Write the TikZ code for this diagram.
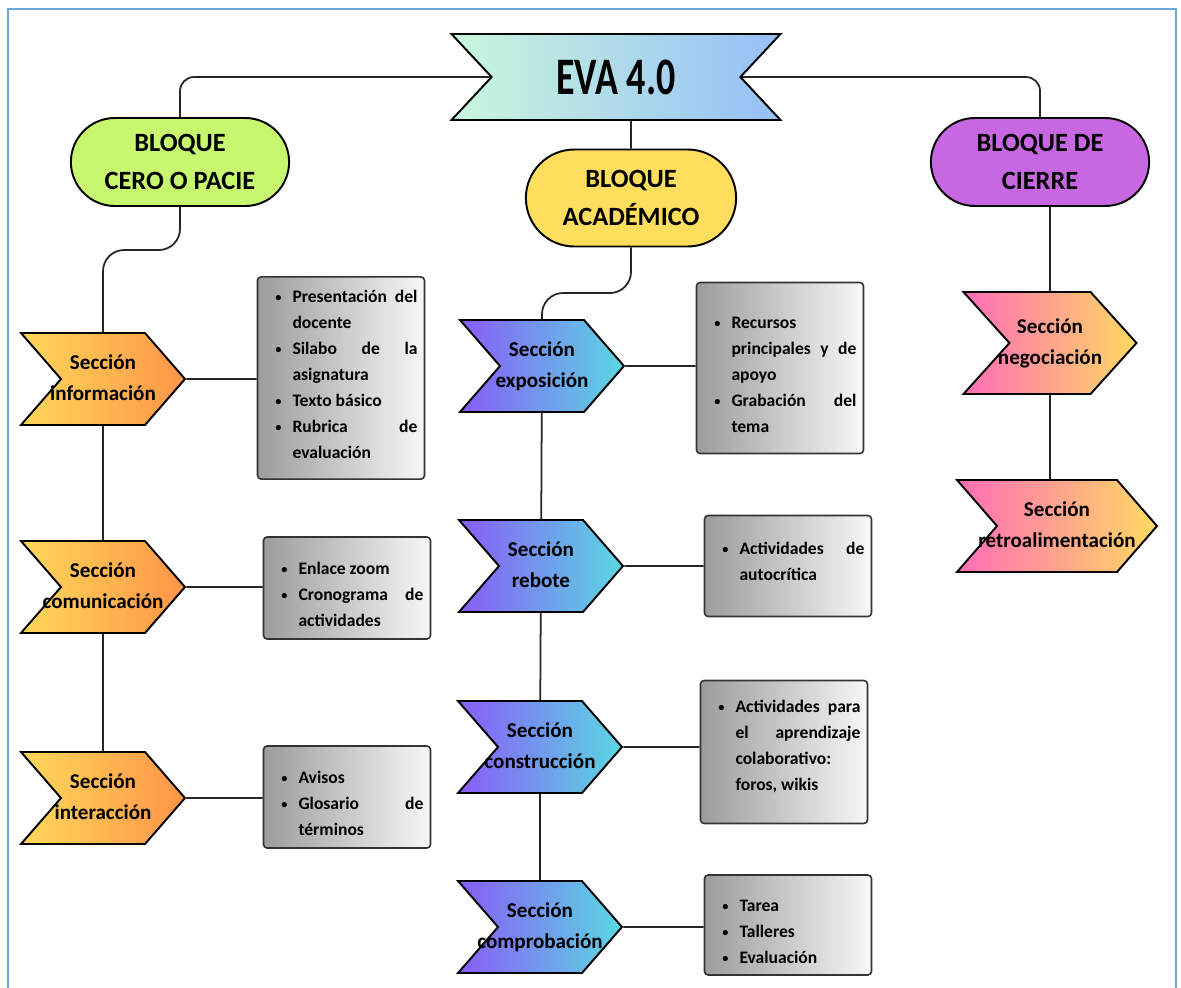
\documentclass[tikz,border=0pt]{standalone}
\usepackage{fontspec}
\setmainfont{Carlito}
\usepackage{graphicx}
\usepackage{enumitem}
\usetikzlibrary{shapes.symbols,shapes.misc,backgrounds}

\definecolor{marco}{HTML}{6FA8DC}
\definecolor{evaverde}{HTML}{C8F7DC}
\definecolor{evaazul}{HTML}{96BFF7}
\definecolor{verdelima}{HTML}{C6F76F}
\definecolor{amarillo}{HTML}{FFDE5E}
\definecolor{morado}{HTML}{C867E2}
\definecolor{naranjaclaro}{HTML}{FFD85A}
\definecolor{naranjaosc}{HTML}{FF9448}
\definecolor{violeta}{HTML}{895BF7}
\definecolor{cian}{HTML}{5AD8E2}
\definecolor{rosa}{HTML}{FF6DB8}
\definecolor{oro}{HTML}{FFDA62}
\definecolor{grisosc}{HTML}{9C9C9C}
\definecolor{grisclaro}{HTML}{F7F7F7}

\newcommand{\vinetas}[1]{\begin{itemize}[nosep,leftmargin=0.56cm,labelsep=0.22cm,
    label=\raisebox{0.12ex}{\scriptsize\textbullet}]#1\end{itemize}}
\newcommand{\centrado}[1]{\makebox[0pt]{\begin{tabular}{@{}c@{}}#1\end{tabular}}}

\begin{document}
\begin{tikzpicture}[
    x=0.02cm, y=-0.02cm,
    titulo/.style={signal, signal from=west and east, signal to=nowhere, signal pointer angle=94,
                   draw=black, line width=1.1pt, left color=evaverde, right color=evaazul,
                   minimum width=6.58cm, minimum height=1.72cm},
    bloque/.style={rounded rectangle, draw=black, line width=1.1pt, align=center,
                   font=\fontsize{15}{22}\selectfont\bfseries,
                   minimum width=4.6cm, minimum height=1.76cm},
    seccion/.style={signal, signal from=west, signal to=east, signal pointer angle=98,
                    draw=black, line width=1.1pt, inner xsep=0pt,
                    font=\fontsize{12}{17.5}\selectfont\bfseries,
                    minimum width=3.28cm, minimum height=1.84cm},
    naranja/.style={seccion, left color=naranjaclaro, right color=naranjaosc},
    azul/.style={seccion, left color=violeta, right color=cian},
    rosado/.style={seccion, left color=rosa, right color=oro},
    lista/.style={rectangle, rounded corners=2pt, draw=black!80, line width=0.9pt,
                  left color=grisosc, right color=grisclaro,
                  text width=3.06cm, inner xsep=0.14cm, align=justify,
                  font=\fontsize{10}{14.8}\selectfont\bfseries},
    link/.style={draw=black!85, line width=1pt, rounded corners=8pt}
]
    \useasboundingbox (0,0) rectangle (1181,988);

    % raiz y bloques
    \node[titulo] (eva) at (616,77) {\fontsize{30}{30}\selectfont\bfseries\scalebox{0.72}[1]{EVA 4.0}};
    \node[bloque, fill=verdelima] (cero) at (180,162) {BLOQUE\\CERO O PACIE};
    \node[bloque, fill=amarillo, minimum width=4.44cm, minimum height=1.94cm] (acad) at (631,198) {BLOQUE\\ACADÉMICO};
    \node[bloque, fill=morado] (cierre) at (1040,162) {BLOQUE DE\\CIERRE};

    % secciones
    \node[naranja] (info) at (103,379) {\centrado{Sección\\información}};
    \node[naranja] (com) at (103,587) {\centrado{Sección\\comunicación}};
    \node[naranja] (inter) at (103,798) {\centrado{Sección\\interacción}};
    \node[azul] (expo) at (542,366) {\centrado{Sección\\exposición}};
    \node[azul] (rebote) at (541,566) {\centrado{Sección\\rebote}};
    \node[azul] (constr) at (540,747) {\centrado{Sección\\construcción}};
    \node[azul] (comprob) at (540,927) {\centrado{Sección\\comprobación}};
    \node[rosado, minimum width=3.46cm, minimum height=2.04cm, signal pointer angle=96] (nego) at (1050,343) {\centrado{Sección\\negociación}};
    \node[rosado, minimum width=4cm] (retro) at (1057,526) {\centrado{Sección\\retroalimentación}};

    % recursos
    \node[lista, inner ysep=0pt, minimum height=3.98cm] (infobox) at (341,378) {\vinetas{\item Presentación del\linebreak docente \item Silabo de la\linebreak asignatura \item Texto básico \item Rubrica de\linebreak evaluación}\par\kern0.4cm};
    \node[lista, minimum height=2.04cm] (combox) at (347,588) {\vinetas{\item Enlace zoom \item Cronograma de\linebreak actividades}};
    \node[lista, minimum height=2.04cm] (interbox) at (347,797) {\vinetas{\item Avisos \item Glosario de\linebreak términos}};
    \node[lista, minimum height=3.42cm] (expobox) at (780,368) {\vinetas{\item Recursos\linebreak principales y de\linebreak apoyo \item Grabación del\linebreak tema}};
    \node[lista, minimum height=2.02cm] (rebotebox) at (788,566) {\vinetas{\item Actividades de\linebreak autocrítica}\par\kern0.44cm};
    \node[lista, inner ysep=0pt, minimum height=2.86cm] (constrbox) at (784,752) {\vinetas{\item Actividades para\linebreak el aprendizaje\linebreak colaborativo:\linebreak foros, wikis}\par\kern0.5cm};
    \node[lista, minimum height=2cm] (comprobbox) at (788,925) {\vinetas{\item Tarea \item Talleres \item Evaluación}};

    \begin{scope}[on background layer]
        \fill[white] (0,0) rectangle (1181,988);
        \draw[marco, line width=1.2pt] (8,988) -- (8,9) -- (1176,9) -- (1176,988);
        \draw[link] (eva) -| (cero);
        \draw[link] (eva) -| (cierre);
        \draw[link] (acad |- eva) -- (acad);
        \draw[link, rounded corners=12pt] (cero) -- ++(0,88) -| (info);
        \draw[link, rounded corners=12pt] (acad) -- ++(0,95) -| (expo);
        \draw[link] (info) -- (com) -- (inter);
        \draw[link] (expo) -- (rebote) -- (constr) -- (comprob);
        \draw[link] (nego |- cierre) -- (nego);
        \draw[link] (nego) -- (nego |- retro);
        \draw[link] (info) -- (info -| infobox.west);
        \draw[link] (com) -- (com -| combox.west);
        \draw[link] (inter) -- (inter -| interbox.west);
        \draw[link] (expo) -- (expo -| expobox.west);
        \draw[link] (rebote) -- (rebote -| rebotebox.west);
        \draw[link] (constr) -- (constr -| constrbox.west);
        \draw[link] (comprob) -- (comprob -| comprobbox.west);
    \end{scope}
\end{tikzpicture}
\end{document}
